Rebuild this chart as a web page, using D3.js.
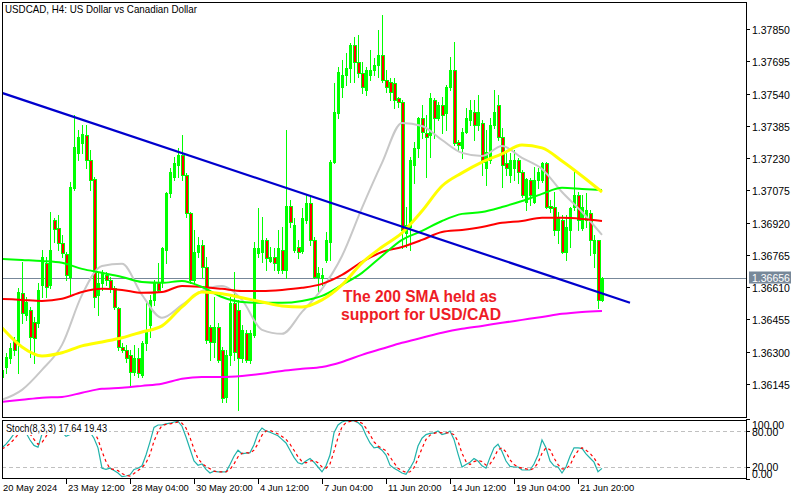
<!DOCTYPE html>
<html><head><meta charset="utf-8">
<script src="https://cdn.jsdelivr.net/npm/d3@7/dist/d3.min.js"></script>
<style>
html,body{margin:0;padding:0;background:#fff;}
svg{display:block;}
text{font-family:"Liberation Sans",Arial,sans-serif;}
</style></head><body>
<svg id="chart" width="800" height="500"></svg>
<script>
const titleText = "USDCAD, H4:  US Dollar vs Canadian Dollar";
const annotationLines = ["The 200 SMA held as", "support for USD/CAD"];
const stochLabel = "Stoch(8,3,3) 17.64 19.43";
const lastPrice = 1.36656;

const priceTicks = [1.37850,1.37695,1.37540,1.37385,1.37230,1.37075,1.36920,1.36765,1.36610,1.36455,1.36300,1.36145];
const stochTicks = [{v:100,label:"100.00",dy:5},{v:80,label:"80.00",dy:0},{v:20,label:"20.00",dy:-1},{v:0,label:"0.00",dy:-6}];
const timeTickBars = [16,32,48,64,80,96,112,128,144];
const timeTickLabels = ["23 May 12:00","28 May 04:00","30 May 20:00","4 Jun 12:00","7 Jun 04:00","11 Jun 20:00","14 Jun 12:00","19 Jun 04:00","21 Jun 20:00"];
const firstDateLabel = "20 May 2024";

const openP = [1.36179,1.36227,1.36271,1.36357,1.36343,1.36583,1.36477,1.36501,1.36443,1.36439,
1.36621,1.36727,1.36621,1.36933,1.36895,1.36823,1.36770,1.36659,1.37087,1.37255,
1.37303,1.37341,1.37221,1.37130,1.36573,1.36631,1.36669,1.36645,1.36607,1.36511,
1.36323,1.36309,1.36285,1.36203,1.36271,1.36189,1.36343,1.36429,1.36549,1.36635,
1.36635,1.36789,1.37063,1.37139,1.37197,1.37245,1.37149,1.36967,1.36645,1.36779,
1.36813,1.36707,1.36419,1.36347,1.36419,1.36309,1.36083,1.36285,1.36535,1.36501,
1.36271,1.36391,1.36261,1.36381,1.36775,1.36779,1.36837,1.36736,1.36755,1.36693,
1.36789,1.36693,1.37000,1.36789,1.36803,1.36784,1.36933,1.37015,1.36837,1.36659,
1.36655,1.36741,1.36827,1.37211,1.37447,1.37571,1.37629,1.37663,1.37773,1.37691,
1.37639,1.37557,1.37629,1.37653,1.37677,1.37725,1.37605,1.37595,1.37591,1.37519,
1.37499,1.36871,1.36899,1.37197,1.37279,1.37423,1.37351,1.37341,1.37509,1.37423,
1.37485,1.37447,1.37571,1.37653,1.37307,1.37279,1.37355,1.37413,1.37451,1.37389,
1.37399,1.37183,1.37221,1.37389,1.37485,1.37331,1.37207,1.37149,1.37183,1.37221,
1.37163,1.37019,1.37125,1.37019,1.37125,1.37125,1.37207,1.37000,1.36995,1.36885,
1.36933,1.36779,1.36885,1.36995,1.37053,1.36895,1.36933,1.36967,1.36775,1.36837,
1.36549];
const highP = [1.36237,1.36295,1.36343,1.36371,1.36607,1.36731,1.36563,1.36515,1.36467,1.36631,
1.36789,1.36755,1.36971,1.36943,1.36957,1.36861,1.36779,1.37115,1.37437,1.37365,
1.37389,1.37389,1.37269,1.37139,1.36679,1.36693,1.36683,1.36659,1.36616,1.36515,
1.36343,1.36333,1.36309,1.36333,1.36319,1.36352,1.36535,1.36573,1.36645,1.36727,
1.36803,1.37067,1.37183,1.37235,1.37279,1.37341,1.37159,1.36971,1.36885,1.36851,
1.36837,1.36755,1.36429,1.36563,1.36439,1.36323,1.36309,1.36563,1.36683,1.36549,
1.36429,1.36405,1.36405,1.36827,1.36991,1.36947,1.36847,1.36803,1.36799,1.36885,
1.36899,1.37365,1.37029,1.36943,1.36837,1.36991,1.37053,1.37043,1.36851,1.36707,
1.36703,1.36875,1.37221,1.37591,1.37667,1.37701,1.37735,1.37783,1.37811,1.37821,
1.37691,1.37667,1.37749,1.37711,1.37845,1.37917,1.37653,1.37615,1.37615,1.37523,
1.37509,1.36995,1.37235,1.37307,1.37427,1.37485,1.37437,1.37543,1.37519,1.37499,
1.37523,1.37581,1.37715,1.37787,1.37317,1.37375,1.37471,1.37509,1.37509,1.37533,
1.37413,1.37365,1.37423,1.37557,1.37533,1.37375,1.37269,1.37255,1.37269,1.37231,
1.37173,1.37135,1.37135,1.37187,1.37183,1.37211,1.37211,1.37029,1.37067,1.36971,
1.36957,1.36957,1.36995,1.37173,1.37067,1.37053,1.37063,1.36981,1.36861,1.36837,
1.36659];
const lowP = [1.36160,1.36199,1.36247,1.36285,1.36199,1.36439,1.36453,1.36275,1.36247,1.36419,
1.36563,1.36563,1.36607,1.36827,1.36789,1.36755,1.36645,1.36573,1.37077,1.37221,
1.37255,1.37183,1.37077,1.36515,1.36477,1.36597,1.36621,1.36587,1.36506,1.36309,
1.36299,1.36251,1.36141,1.36189,1.36179,1.36179,1.36309,1.36371,1.36525,1.36587,
1.36611,1.36727,1.37043,1.37125,1.37139,1.37125,1.36947,1.36631,1.36631,1.36755,
1.36659,1.36343,1.36261,1.36275,1.36251,1.36059,1.36059,1.36237,1.36261,1.36021,
1.36251,1.36251,1.36247,1.36371,1.36755,1.36731,1.36693,1.36731,1.36693,1.36679,
1.36679,1.36655,1.36899,1.36779,1.36751,1.36775,1.36919,1.36813,1.36655,1.36583,
1.36621,1.36731,1.36741,1.37207,1.37423,1.37523,1.37581,1.37595,1.37595,1.37619,
1.37543,1.37533,1.37605,1.37629,1.37619,1.37595,1.37547,1.37509,1.37471,1.37475,
1.36799,1.36803,1.36789,1.37111,1.37235,1.37327,1.37139,1.37235,1.37327,1.37413,
1.37351,1.37365,1.37557,1.37293,1.37269,1.37231,1.37351,1.37389,1.37317,1.37365,
1.37149,1.37101,1.37207,1.37375,1.37317,1.37091,1.37149,1.37115,1.37125,1.37111,
1.37043,1.36981,1.37005,1.37015,1.37087,1.37115,1.36991,1.36971,1.36861,1.36823,
1.36775,1.36741,1.36803,1.36981,1.36885,1.36885,1.36899,1.36765,1.36707,1.36511,
1.36544];
const closeP = [1.36213,1.36275,1.36319,1.36309,1.36587,1.36487,1.36539,1.36371,1.36367,1.36597,
1.36755,1.36611,1.36789,1.36890,1.36823,1.36775,1.36669,1.37091,1.37283,1.37331,
1.37346,1.37221,1.37125,1.36563,1.36631,1.36679,1.36645,1.36607,1.36515,1.36323,
1.36309,1.36271,1.36203,1.36271,1.36199,1.36343,1.36405,1.36549,1.36631,1.36597,
1.36799,1.37063,1.37163,1.37207,1.37245,1.37149,1.36967,1.36645,1.36779,1.36813,
1.36707,1.36357,1.36347,1.36419,1.36261,1.36079,1.36285,1.36535,1.36299,1.36271,
1.36405,1.36261,1.36391,1.36799,1.36799,1.36837,1.36751,1.36755,1.36727,1.36799,
1.36693,1.37000,1.36923,1.36909,1.36779,1.36943,1.37015,1.36837,1.36659,1.36679,
1.36669,1.36837,1.37211,1.37451,1.37643,1.37629,1.37663,1.37773,1.37691,1.37639,
1.37571,1.37653,1.37653,1.37677,1.37725,1.37605,1.37571,1.37547,1.37509,1.37499,
1.36885,1.36909,1.37221,1.37279,1.37423,1.37355,1.37331,1.37519,1.37423,1.37485,
1.37437,1.37571,1.37653,1.37303,1.37293,1.37355,1.37423,1.37461,1.37389,1.37451,
1.37211,1.37259,1.37389,1.37451,1.37331,1.37197,1.37183,1.37221,1.37221,1.37163,
1.37053,1.37130,1.37053,1.37125,1.37163,1.37207,1.36995,1.36991,1.36885,1.36943,
1.36779,1.36899,1.36991,1.37053,1.36933,1.36995,1.36981,1.36837,1.36837,1.36549,
1.36656];

// moving averages sampled every 5 bars (bar 0,5,...,150)
const maBars = [0,5,10,15,20,25,30,35,40,45,50,55,60,65,70,75,80,85,90,95,100,105,110,115,120,125,130,135,140,145,150];
const maGray = [1.36069,1.36117,1.36213,1.36333,1.36573,1.36712,1.36722,1.36573,1.36463,1.36525,1.36592,1.36616,1.36549,1.36405,1.36386,1.36491,1.36602,1.36760,1.36991,1.37207,1.37399,1.37384,1.37317,1.37255,1.37240,1.37288,1.37231,1.37178,1.37067,1.36971,1.36861];
const maYellow = [1.36415,1.36323,1.36280,1.36295,1.36328,1.36347,1.36367,1.36395,1.36424,1.36515,1.36587,1.36578,1.36559,1.36539,1.36520,1.36515,1.36549,1.36621,1.36727,1.36803,1.36871,1.36976,1.37096,1.37159,1.37211,1.37250,1.37293,1.37279,1.37216,1.37144,1.37067];
const maGreen = [1.36746,1.36741,1.36736,1.36727,1.36698,1.36679,1.36659,1.36635,1.36631,1.36640,1.36611,1.36563,1.36539,1.36535,1.36535,1.36544,1.36568,1.36621,1.36679,1.36760,1.36837,1.36880,1.36928,1.36962,1.36971,1.36995,1.37024,1.37058,1.37087,1.37082,1.37077];
const maRed = [1.36554,1.36549,1.36544,1.36554,1.36587,1.36602,1.36597,1.36583,1.36587,1.36616,1.36611,1.36602,1.36592,1.36592,1.36597,1.36607,1.36626,1.36669,1.36731,1.36779,1.36803,1.36837,1.36875,1.36885,1.36899,1.36919,1.36928,1.36943,1.36943,1.36938,1.36928];
const maMagenta = [1.36059,1.36069,1.36079,1.36083,1.36103,1.36122,1.36127,1.36136,1.36146,1.36170,1.36179,1.36179,1.36184,1.36194,1.36208,1.36218,1.36227,1.36251,1.36285,1.36314,1.36343,1.36367,1.36391,1.36410,1.36424,1.36439,1.36453,1.36467,1.36482,1.36491,1.36496];

const trendBars = [0, 157];
const trendPrices = [1.37543, 1.36535];

const stochMain = [52,58,66,75,82,84,77,65,56,53,75,84,90,92,86,78,71,74,88,94,
95,92,78,68,52,18,16,18,14,10,4,5,7,16,18,22,40,62,86,90,
90,92,93,95,96,88,70,50,30,23,25,16,10,13,12,12,12,24,38,48,
42,43,44,57,76,85,80,78,75,72,66,60,48,36,27,25,30,34,28,20,
12,22,40,77,90,95,97,97,97,94,88,73,60,52,53,48,40,23,18,14,
10,8,18,30,55,68,74,76,77,80,74,76,80,66,42,20,24,28,34,30,
22,18,36,52,58,46,30,21,20,20,15,15,15,25,40,65,52,30,22,20,
10,20,38,52,52,51,42,35,28,12,17.64];
const stochSignal = [50,54,59,66,74,80,81,75,66,58,61,71,83,89,89,85,78,74,78,85,
92,94,88,79,66,46,29,17,16,14,9,6,5,9,14,19,27,41,63,79,
89,91,92,93,95,93,85,69,50,34,26,21,17,13,12,12,12,16,25,37,
43,44,43,48,59,73,80,81,78,75,71,66,58,48,37,29,27,30,31,27,
20,18,25,46,69,87,94,96,97,96,93,85,74,62,55,51,47,37,27,18,
14,11,12,19,34,51,66,73,76,78,77,77,77,74,63,43,29,24,29,31,
29,23,25,35,49,52,45,32,24,20,18,17,15,18,27,43,52,49,35,24,
17,17,23,37,47,52,48,43,35,25,19.43];

// ---------- drawing ----------
const svg = d3.select("#chart");
const L = 2, R = 746, mainTop = 2, mainBottom = 417, stTop = 420, stBottom = 478;

const x = d3.scaleLinear().domain([0, 186]).range([2, 746]);
const y = d3.scaleLinear().domain([1.36145, 1.37850]).range([384, 29]);
const ys = d3.scaleLinear().domain([0, 100]).range([479, 419]);

svg.append("rect").attr("width", 800).attr("height", 500).attr("fill", "#fff");

const defs = svg.append("defs");
defs.append("clipPath").attr("id", "clipMain").append("rect")
  .attr("x", L + 1).attr("y", mainTop + 1).attr("width", R - L - 1).attr("height", mainBottom - mainTop - 1);
defs.append("clipPath").attr("id", "clipSt").append("rect")
  .attr("x", L + 1).attr("y", stTop + 1).attr("width", R - L - 1).attr("height", stBottom - stTop - 1);

// current price line
const gMain = svg.append("g").attr("clip-path", "url(#clipMain)");
const yLast = Math.round(y(lastPrice)) + 0.5;
gMain.append("line").attr("x1", L).attr("x2", R).attr("y1", yLast).attr("y2", yLast)
  .attr("stroke", "#778899").attr("stroke-width", 1);

// candles
const candles = d3.range(openP.length).map(i => ({i, o: openP[i], h: highP[i], l: lowP[i], c: closeP[i]}));
const gC = gMain.append("g");
candles.forEach(d => {
  const cx = Math.round(x(d.i));
  const yh = Math.round(y(d.h)), yl = Math.round(y(d.l));
  gC.append("rect").attr("x", cx).attr("y", yh).attr("width", 1).attr("height", Math.max(1, yl - yh + 1)).attr("fill", "#00ff00");
  const top = Math.round(y(Math.max(d.o, d.c))), bot = Math.round(y(Math.min(d.o, d.c)));
  const bull = d.c >= d.o;
  if (bull) {
    gC.append("rect").attr("x", cx - 1).attr("y", top).attr("width", 3).attr("height", Math.max(1, bot - top + 1)).attr("fill", "#00ff00");
  } else {
    gC.append("rect").attr("x", cx - 1).attr("y", top).attr("width", 4).attr("height", Math.max(1, bot - top + 1)).attr("fill", "#00ff00");
    if (bot - top >= 2) {
      gC.append("rect").attr("x", cx).attr("y", top + 1).attr("width", 2).attr("height", bot - top - 1).attr("fill", "#ff0000");
    }
  }
});

// moving averages
const maLine = d3.line().x(d => x(d[0])).y(d => y(d[1])).curve(d3.curveMonotoneX);
const mas = [
  {vals: maMagenta, color: "#ff00ff", w: 2},
  {vals: maGray, color: "#c8c8c8", w: 2},
  {vals: maRed, color: "#ff0000", w: 2},
  {vals: maGreen, color: "#00ff00", w: 2},
  {vals: maYellow, color: "#ffff00", w: 3}
];
mas.forEach(m => {
  gMain.append("path").attr("d", maLine(maBars.map((b, k) => [b, m.vals[k]])))
    .attr("fill", "none").attr("stroke", m.color).attr("stroke-width", m.w);
});

// trendline
gMain.append("line")
  .attr("x1", x(trendBars[0])).attr("y1", y(trendPrices[0]))
  .attr("x2", x(trendBars[1])).attr("y2", y(trendPrices[1]))
  .attr("stroke", "#0000cd").attr("stroke-width", 2.2);

// annotation
const ann = svg.append("g").attr("fill", "#ee1c25").attr("font-weight", "bold").attr("font-size", 16);
ann.append("text").attr("x", 343).attr("y", 302).attr("textLength", 154).attr("lengthAdjust", "spacingAndGlyphs").text(annotationLines[0]);
ann.append("text").attr("x", 341).attr("y", 320).attr("textLength", 160).attr("lengthAdjust", "spacingAndGlyphs").text(annotationLines[1]);

// frames
svg.append("rect").attr("x", L + 0.5).attr("y", mainTop + 0.5).attr("width", R - L).attr("height", mainBottom - mainTop)
  .attr("fill", "none").attr("stroke", "#000");
svg.append("rect").attr("x", L + 0.5).attr("y", stTop + 0.5).attr("width", R - L).attr("height", stBottom - stTop)
  .attr("fill", "none").attr("stroke", "#000");

// title
svg.append("text").attr("x", 5).attr("y", 13).attr("font-size", 11).attr("fill", "#000")
  .attr("textLength", 192).attr("lengthAdjust", "spacingAndGlyphs").text(titleText);

// right price axis
const gAx = svg.append("g");
priceTicks.forEach(p => {
  const yy = Math.round(y(p)) + 0.5;
  gAx.append("line").attr("x1", R).attr("x2", R + 4).attr("y1", yy).attr("y2", yy).attr("stroke", "#000");
  gAx.append("text").attr("x", 752).attr("y", yy + 4).attr("font-size", 10.5).attr("fill", "#000").text(p.toFixed(5));
});
// last price label
gAx.append("rect").attr("x", 749).attr("y", yLast - 7).attr("width", 42).attr("height", 12).attr("fill", "#778899");
gAx.append("text").attr("x", 752).attr("y", yLast + 3).attr("font-size", 10.5).attr("fill", "#fff").text(lastPrice.toFixed(5));

// stochastic panel
const gSt = svg.append("g").attr("clip-path", "url(#clipSt)");
[80, 20].forEach(v => {
  const yy = Math.round(ys(v)) + 0.5;
  gSt.append("line").attr("x1", L).attr("x2", R).attr("y1", yy).attr("y2", yy)
    .attr("stroke", "#c0c0c0").attr("stroke-dasharray", "4,3");
});
const stLine = d3.line().x((d, i) => x(i)).y(d => ys(d));
gSt.append("path").attr("d", stLine(stochMain)).attr("fill", "none").attr("stroke", "#20b2aa").attr("stroke-width", 1.2);
gSt.append("path").attr("d", stLine(stochSignal)).attr("fill", "none").attr("stroke", "#ff0000").attr("stroke-width", 1.2).attr("stroke-dasharray", "3,3");
gSt.append("rect").attr("x", 3).attr("y", 421).attr("width", 106).attr("height", 14).attr("fill", "#fff");
svg.append("text").attr("x", 6).attr("y", 432).attr("font-size", 10.5).attr("fill", "#000")
  .attr("textLength", 101).attr("lengthAdjust", "spacingAndGlyphs").text(stochLabel);

stochTicks.forEach(t => {
  const yy = Math.round(ys(t.v)) + 0.5;
  gAx.append("line").attr("x1", R).attr("x2", R + 4).attr("y1", yy).attr("y2", yy).attr("stroke", "#000");
  gAx.append("text").attr("x", 752).attr("y", yy + 4 + t.dy).attr("font-size", 10.5).attr("fill", "#000").text(t.label);
});

// time axis
svg.append("text").attr("x", 3).attr("y", 491).attr("font-size", 9.4).attr("fill", "#000").text(firstDateLabel);
timeTickBars.forEach((b, k) => {
  const xx = Math.round(x(b)) + 0.5;
  svg.append("line").attr("x1", xx).attr("x2", xx).attr("y1", stBottom).attr("y2", stBottom + 6).attr("stroke", "#000");
  svg.append("text").attr("x", xx + 1.5).attr("y", 491).attr("font-size", 9.4).attr("fill", "#000").text(timeTickLabels[k]);
});
</script>
</body></html>
